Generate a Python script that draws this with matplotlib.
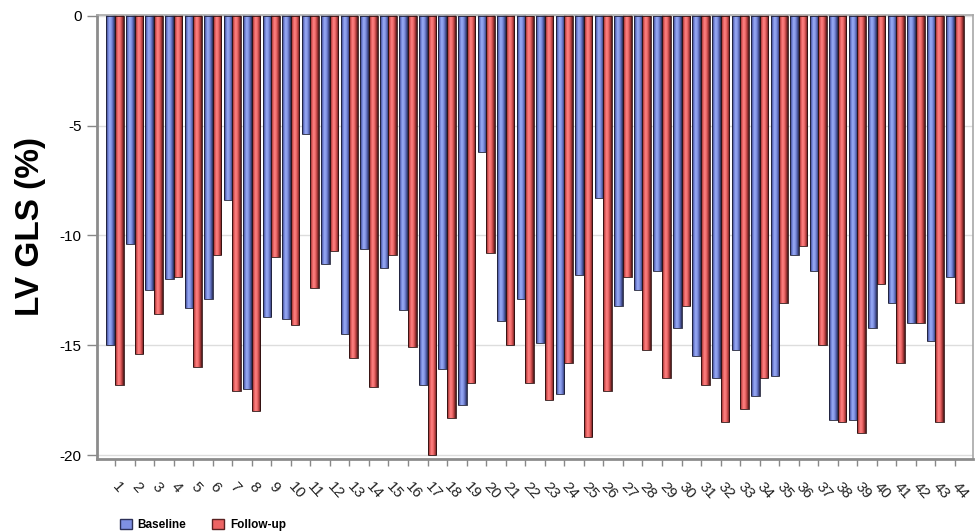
import numpy as np
import matplotlib
matplotlib.use("Agg")
import matplotlib.pyplot as plt
from matplotlib.colors import LinearSegmentedColormap
from matplotlib.patches import Patch

plt.rcParams["font.family"] = ["Liberation Sans", "DejaVu Sans"]
plt.rcParams["axes.unicode_minus"] = False

patients = list(range(1, 45))
baseline = [-15.0, -10.4, -12.5, -12.0, -13.3, -12.9, -8.4, -17.0, -13.7, -13.8,
            -5.4, -11.3, -14.5, -10.6, -11.5, -13.4, -16.8, -16.1, -17.7, -6.2,
            -13.9, -12.9, -14.9, -17.2, -11.8, -8.3, -13.2, -12.5, -11.6, -14.2,
            -15.5, -16.5, -15.2, -17.3, -16.4, -10.9, -11.6, -18.4, -18.4, -14.2,
            -13.1, -14.0, -14.8, -11.9]
follow_up = [-16.8, -15.4, -13.6, -11.9, -16.0, -10.9, -17.1, -18.0, -11.0, -14.1,
             -12.4, -10.7, -15.6, -16.9, -10.9, -15.1, -20.0, -18.3, -16.7, -10.8,
             -15.0, -16.7, -17.5, -15.8, -19.2, -17.1, -11.9, -15.2, -16.5, -13.2,
             -16.8, -18.5, -17.9, -16.5, -13.1, -10.5, -15.0, -18.5, -19.0, -12.2,
             -15.8, -14.0, -18.5, -13.1]
yticks = [0, -5, -10, -15, -20]

# shaded "tube" look across each bar
blue_cmap = LinearSegmentedColormap.from_list(
    "blue_tube", ["#2c3058", "#6676cc", "#9aacf6", "#8496e6", "#5562b0", "#262a4c"])
red_cmap = LinearSegmentedColormap.from_list(
    "red_tube", ["#5a2020", "#d85252", "#ff8484", "#f06a6a", "#b03c3c", "#421616"])
grad = np.linspace(0, 1, 64).reshape(1, -1)

fig = plt.figure(figsize=(9.75, 5.32), dpi=100)
ax = fig.add_axes([97 / 975, 1 - 459 / 532, (973 - 97) / 975, (459 - 15) / 532])

x = np.array(patients, dtype=float)
w = 0.44
for vals, off, cmap, edge in [(baseline, -w / 2, blue_cmap, "#1e2038"),
                              (follow_up, w / 2, red_cmap, "#2e1010")]:
    bars = ax.bar(x + off, vals, width=w, facecolor="none", edgecolor=edge,
                  linewidth=0.6, zorder=3)
    for rect in bars:
        x0, h = rect.get_x(), rect.get_height()
        ax.imshow(grad, cmap=cmap, extent=(x0, x0 + w, h, 0), aspect="auto",
                  interpolation="bilinear", zorder=2)

ax.set_xlim(0.08, 44.92)
ax.set_ylim(-20.18, 0.03)
ax.set_yticks(yticks)
ax.set_yticklabels([str(v) for v in yticks], fontsize=11)
ax.set_xticks(x)
ax.set_xticklabels([str(p) for p in patients], rotation=-48, ha="left",
                   va="center", rotation_mode="anchor", fontsize=11,
                   color="#222222")
ax.tick_params(axis="x", length=5, width=1, color="#888888", pad=13)
ax.tick_params(axis="y", length=7, width=1, color="#888888", pad=4)
ax.yaxis.grid(True, color="#dddddd", linewidth=1, zorder=0)
ax.set_axisbelow(True)

for side in ["left", "bottom"]:
    ax.spines[side].set_color("#8c8c8c")
    ax.spines[side].set_linewidth(2)
for side in ["top", "right"]:
    ax.spines[side].set_color("#a8a8a8")
    ax.spines[side].set_linewidth(1.2)

fig.text(0.031, 0.5 + (532 / 2 - 226) / 532, "LV GLS (%)", rotation=90,
         fontsize=24, fontweight="bold", ha="center", va="center")

handles = [Patch(facecolor="#7f90e2", edgecolor="#2c3058", label="Baseline"),
           Patch(facecolor="#ec6464", edgecolor="#5a2020", label="Follow-up")]
fig.legend(handles=handles, loc="lower left", bbox_to_anchor=(0.112, -0.018),
           ncol=2, frameon=False, prop={"size": 8.5, "weight": "bold"},
           handlelength=1.0, handleheight=1.0, handletextpad=0.5,
           columnspacing=2.2)

fig.savefig("out.png", dpi=100)
